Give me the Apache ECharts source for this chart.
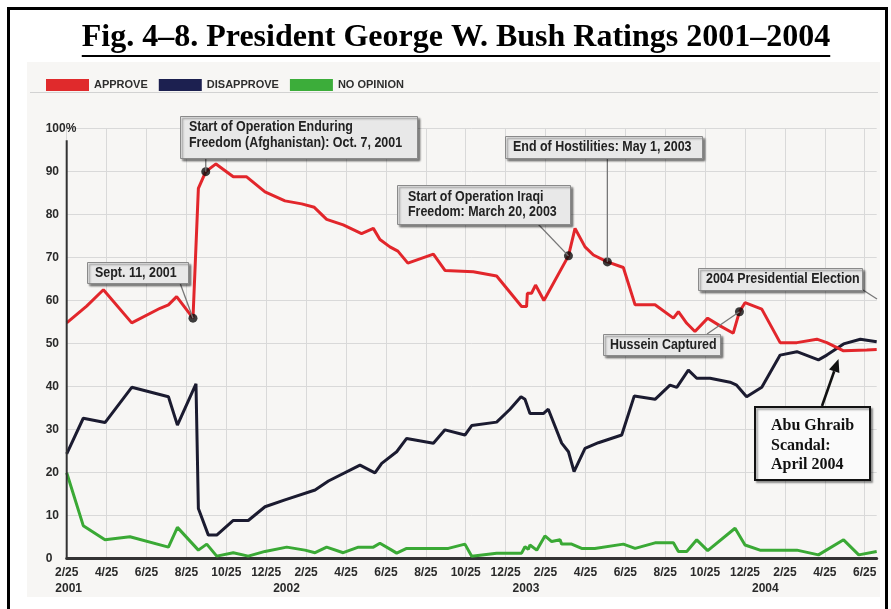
<!DOCTYPE html>
<html><head><meta charset="utf-8">
<script src="https://cdn.jsdelivr.net/npm/echarts@6/dist/echarts.min.js"></script>
<style>html,body{margin:0;padding:0;background:#fff}#c{width:891px;height:609px}</style>
</head><body><div id="c"></div>
<script>
// ---- DATA (x = months since 2/25/2001, y = percent) ----
const seriesNames = ['APPROVE', 'DISAPPROVE', 'NO OPINION'];

const approveMonths = [0, 1.0, 1.84, 3.26, 4.68, 5.1, 5.51, 6.33, 6.6, 6.97, 7.48, 8.35, 9.02, 9.94, 10.94, 11.78, 12.41, 13.03, 13.86, 14.78, 15.37, 15.7, 16.2, 16.6, 17.1, 18.38, 18.96, 20.38, 21.55, 22.8, 23.05, 23.09, 23.3, 23.5, 23.92, 25.15, 25.48, 25.98, 26.4, 27.1, 27.9, 28.49, 29.49, 30.41, 30.66, 31.08, 31.49, 32.13, 32.75, 33.41, 33.72, 34.0, 34.84, 35.76, 36.6, 37.6, 38.1, 38.94, 40.1, 40.6];
const approveValues = [54.8, 58.7, 62.5, 54.8, 58.2, 59.0, 60.9, 55.9, 86.1, 90.0, 91.8, 88.8, 88.8, 85.3, 83.2, 82.5, 81.7, 78.9, 77.6, 75.6, 76.8, 74.2, 72.5, 71.5, 68.7, 70.8, 67.0, 66.7, 65.7, 58.6, 58.6, 61.7, 61.7, 63.6, 60.0, 70.4, 76.8, 72.5, 70.6, 69.0, 67.7, 59.0, 59.0, 55.9, 57.4, 54.7, 52.8, 55.9, 54.1, 52.4, 57.4, 59.5, 58.0, 50.2, 50.2, 51.0, 50.2, 48.3, 48.5, 48.6];

const disapproveMonths = [0, 0.83, 1.92, 3.26, 5.1, 5.55, 6.48, 6.6, 7.1, 7.52, 8.35, 9.1, 9.94, 10.94, 12.45, 13.12, 14.7, 15.45, 15.79, 16.54, 17.04, 18.38, 18.96, 19.96, 20.3, 21.55, 22.22, 22.77, 22.97, 23.22, 23.89, 24.14, 24.81, 25.15, 25.43, 25.98, 26.65, 27.82, 28.45, 29.49, 30.24, 30.58, 31.16, 31.58, 32.25, 33.25, 33.58, 34.08, 34.84, 35.76, 36.6, 37.68, 38.1, 38.94, 39.78, 40.6];
const disapproveValues = [24.3, 32.6, 31.6, 39.8, 37.6, 31.0, 40.6, 11.6, 5.4, 5.4, 8.8, 8.8, 12.0, 13.6, 15.9, 18.0, 21.7, 19.9, 22.1, 24.8, 27.9, 26.8, 29.9, 28.7, 30.9, 31.7, 34.7, 37.6, 37.0, 33.7, 33.7, 34.7, 26.8, 24.8, 20.2, 25.6, 26.9, 28.7, 37.8, 37.0, 40.3, 39.8, 43.8, 41.9, 41.9, 41.0, 40.3, 37.6, 39.8, 47.3, 48.1, 46.2, 47.3, 49.9, 51.0, 50.4];

const noOpinionMonths = [0, 0.83, 1.92, 3.17, 5.1, 5.55, 6.6, 7.02, 7.52, 8.35, 9.1, 9.94, 11.03, 11.94, 12.45, 13.03, 13.86, 14.62, 15.37, 15.7, 16.29, 16.54, 17.04, 19.13, 19.96, 20.3, 21.55, 22.8, 22.97, 23.14, 23.22, 23.56, 23.97, 24.31, 24.73, 24.81, 25.31, 25.81, 26.47, 27.9, 28.49, 29.49, 30.41, 30.66, 31.08, 31.58, 32.13, 33.5, 34.0, 34.75, 36.6, 37.68, 38.94, 39.7, 40.6];
const noOpinionValues = [19.9, 7.6, 4.3, 5.0, 2.6, 7.2, 1.9, 3.3, 0.5, 1.3, 0.5, 1.6, 2.6, 1.9, 1.3, 2.6, 1.3, 2.6, 2.6, 3.5, 1.9, 1.2, 2.3, 2.3, 3.3, 0.5, 1.2, 1.2, 2.7, 2.1, 3.1, 1.9, 5.2, 3.9, 4.3, 3.3, 3.3, 2.3, 2.3, 3.3, 2.3, 3.6, 3.6, 1.6, 1.6, 4.3, 1.8, 7.0, 3.1, 1.9, 1.9, 0.8, 4.3, 0.8, 1.6];

const xTickLabels = ['2/25','4/25','6/25','8/25','10/25','12/25','2/25','4/25','6/25','8/25','10/25','12/25','2/25','4/25','6/25','8/25','10/25','12/25','2/25','4/25','6/25'];
const yearLabels = ['2001', '2002', '2003', '2004'];
const yearStartMonths = [0, 10.2, 22.2, 34.2];

const eventLabels = ['Sept. 11, 2001', 'Start of Operation Enduring Freedom (Afghanistan): Oct. 7, 2001', 'Start of Operation Iraqi Freedom: March 20, 2003', 'End of Hostilities: May 1, 2003', 'Hussein Captured'];
const eventMonths = [6.33, 6.97, 25.15, 27.1, 33.72];
const eventValues = [55.9, 90.0, 70.4, 69.0, 57.4];

// ---- CHART ----
const FN = "'Liberation Sans',Arial,sans-serif";
const FS = "'Liberation Serif','Times New Roman',serif";
const pair = (xs, ys) => xs.map((x, i) => [x, ys[i]]);
const chart = echarts.init(document.getElementById('c'), null, {renderer: 'canvas'});

chart.setOption({
  animation: false,
  backgroundColor: '#ffffff',
  grid: {left: 66.7, right: 14.3, top: 128.7, bottom: 50.7},
  legend: {
    data: seriesNames, left: 41, top: 74, icon: 'rect', itemWidth: 43, itemHeight: 12, itemGap: 11,
    itemStyle: {borderWidth: 0},
    textStyle: {fontFamily: FN, fontWeight: 'bold', fontSize: 11, color: '#2e2e2e'}
  },
  xAxis: {
    type: 'value', min: 0, max: 40.6, interval: 2,
    axisLine: {show: true, lineStyle: {color: '#333', width: 3}},
    axisTick: {show: false},
    splitLine: {show: true, showMaxLine: false, lineStyle: {color: '#d9d9d9', width: 1}},
    axisLabel: {
      showMaxLabel: false, margin: 8,
      fontFamily: FN, fontWeight: 'bold', fontSize: 12, color: '#2a2a2a',
      formatter: v => { const i = Math.round(v / 2); return (Math.abs(v - i * 2) < 1e-6 && xTickLabels[i]) || ''; }
    }
  },
  yAxis: {
    type: 'value', min: 0, max: 100, interval: 10,
    axisLine: {show: false}, axisTick: {show: false},
    splitLine: {lineStyle: {color: '#d9d9d9', width: 1}},
    axisLabel: {
      align: 'left', margin: 21, fontFamily: FN, fontWeight: 'bold', fontSize: 12, color: '#2a2a2a',
      formatter: v => v === 100 ? '100%' : String(v)
    }
  },
  series: [
    {name: seriesNames[0], type: 'line', data: pair(approveMonths, approveValues), symbol: 'none',
     lineStyle: {width: 3, color: '#e2262b'}, itemStyle: {color: '#e02a2c'}, z: 4},
    {name: seriesNames[1], type: 'line', data: pair(disapproveMonths, disapproveValues), symbol: 'none',
     lineStyle: {width: 3, color: '#1b1b30'}, itemStyle: {color: '#1c2050'}, z: 3},
    {name: seriesNames[2], type: 'line', data: pair(noOpinionMonths, noOpinionValues), symbol: 'none',
     lineStyle: {width: 3, color: '#3aa935'}, itemStyle: {color: '#3cad3a'}, z: 3},
    {name: 'events', type: 'scatter', data: pair(eventMonths, eventValues), symbolSize: 9,
     itemStyle: {color: '#0d0d0d'}, z: 6, silent: true}
  ]
});

// ---- ANNOTATIONS (layout) ----
const px = (m, v) => chart.convertToPixel({gridIndex: 0}, [m, v]);
const G = [];
G.push({type: 'rect', z: -10, shape: {x: 27, y: 62, width: 853, height: 535}, style: {fill: '#f7f6f4'}});
G.push({type: 'rect', z: 100, shape: {x: 8.5, y: 8.5, width: 878, height: 612}, style: {fill: 'none', stroke: '#000', lineWidth: 3}});
G.push({type: 'line', z: 1, shape: {x1: 30, y1: 92.5, x2: 878, y2: 92.5}, style: {stroke: '#d2d2d2', lineWidth: 1}});

// title with underline
const titleText = 'Fig. 4\u20138. President George W. Bush Ratings 2001\u20132004';
const titleFont = 'bold 32px ' + FS;
const mctx = document.createElement('canvas').getContext('2d');
mctx.font = titleFont;
const tw = mctx.measureText(titleText).width;
G.push({type: 'text', z: 100, style: {text: titleText, x: 456, y: 38, font: titleFont, fill: '#000', align: 'center', verticalAlign: 'middle'}});
G.push({type: 'line', z: 100, shape: {x1: 456 - tw / 2, y1: 56, x2: 456 + tw / 2, y2: 56}, style: {stroke: '#000', lineWidth: 2}});

// y axis line (starts just below 100% label)
const yTop = px(0, 97.3), yBot = px(0, 0);
G.push({type: 'line', z: 5, shape: {x1: yTop[0], y1: yTop[1], x2: yBot[0], y2: yBot[1]}, style: {stroke: '#333', lineWidth: 2}});

// year labels
yearLabels.forEach((t, i) => {
  const p = px(yearStartMonths[i], 0);
  G.push({type: 'text', z: 10, style: {text: t, x: i === 0 ? p[0] + 2 : p[0] + 3, y: 589, font: 'bold 12px ' + FN, fill: '#2a2a2a', align: i === 0 ? 'center' : 'left', verticalAlign: 'middle'}});
});

// callout boxes
const boxStyle = {fill: '#e8e8e8', stroke: '#8a8a8a', lineWidth: 1, shadowColor: 'rgba(0,0,0,0.45)', shadowOffsetX: 2, shadowOffsetY: 2, shadowBlur: 2};
const notes = [
  {ev: 0, lines: ['Sept. 11, 2001'], box: [87, 262, 101, 21], tx: 95, ty: [272.5], from: [180, 283]},
  {ev: 1, lines: ['Start of Operation Enduring', 'Freedom (Afghanistan): Oct. 7, 2001'], box: [180, 116, 237, 42], tx: 189, ty: [127, 142.5], from: [null, 158]},
  {ev: 2, lines: ['Start of Operation Iraqi', 'Freedom: March 20, 2003'], box: [397, 185, 173, 39], tx: 408, ty: [197, 212], from: [538, 224]},
  {ev: 3, lines: ['End of Hostilities: May 1, 2003'], box: [505, 136, 197, 22], tx: 513, ty: [147], from: [null, 158]},
  {ev: 4, lines: ['Hussein Captured'], box: [603, 334, 117, 21], tx: 610, ty: [344.5], from: [707, 334]},
  {ev: null, lines: ['2004 Presidential Election'], box: [698, 268, 164, 22], tx: 706, ty: [279], from: [863, 290], to: [877, 299]}
];
notes.forEach(n => {
  let to = n.to;
  if (n.ev !== null) to = px(eventMonths[n.ev], eventValues[n.ev]);
  const fx = n.from[0] === null ? to[0] : n.from[0];
  G.push({type: 'line', z: 20, shape: {x1: fx, y1: n.from[1], x2: to[0], y2: to[1]}, style: {stroke: '#777', lineWidth: 1.3}});
  G.push({type: 'rect', z: 30, shape: {x: n.box[0] + 0.5, y: n.box[1] + 0.5, width: n.box[2], height: n.box[3]}, style: boxStyle});
  n.lines.forEach((l, i) => {
    G.push({type: 'text', z: 31, x: n.tx, y: n.ty[i], scaleX: 0.83,
      style: {text: l, x: 0, y: 0, font: 'bold 15px ' + FN, fill: '#222', align: 'left', verticalAlign: 'middle'}});
  });
});

// Abu Ghraib box + arrow
G.push({type: 'rect', z: 30, shape: {x: 755, y: 407, width: 115, height: 73}, style: {fill: '#fafafa', stroke: '#111', lineWidth: 2, shadowColor: 'rgba(0,0,0,0.35)', shadowOffsetX: 2, shadowOffsetY: 2, shadowBlur: 2}});
['Abu Ghraib', 'Scandal:', 'April 2004'].forEach((l, i) => {
  G.push({type: 'text', z: 31, style: {text: l, x: 771, y: 426 + i * 19.5, font: 'bold 16px ' + FS, fill: '#111', align: 'left', verticalAlign: 'middle'}});
});
(function () {
  const x1 = 822, y1 = 406, x2 = 838.5, y2 = 359;
  const dx = x2 - x1, dy = y2 - y1, L = Math.hypot(dx, dy), ux = dx / L, uy = dy / L;
  const hl = 13, hw = 5.5;
  const bx = x2 - ux * hl, by = y2 - uy * hl;
  G.push({type: 'line', z: 32, shape: {x1: x1, y1: y1, x2: bx, y2: by}, style: {stroke: '#111', lineWidth: 2.6}});
  G.push({type: 'polygon', z: 32, shape: {points: [[x2, y2], [bx - uy * hw, by + ux * hw], [bx + uy * hw, by - ux * hw]]}, style: {fill: '#111'}});
})();

chart.setOption({graphic: G});
</script>
</body></html>
